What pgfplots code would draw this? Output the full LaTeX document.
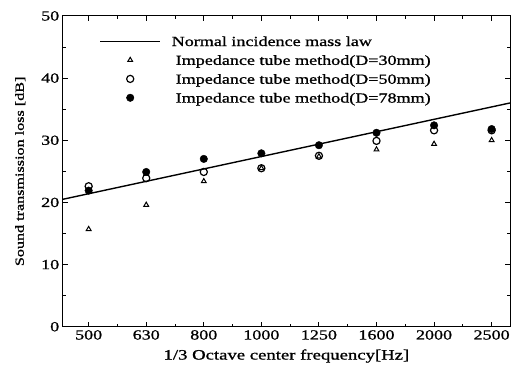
\documentclass[border=0pt]{standalone}
\usepackage{fontspec}
\setmainfont[FakeStretch=1.3,FakeBold=1]{Liberation Serif}
\usepackage{pgfplots}
\pgfplotsset{compat=1.18}
\pgfplotsset{
  legline/.style={legend image code/.code={\draw[##1] (0bp,0bp) -- (60bp,0bp);}},
  legmark/.style={legend image code/.code={\draw[mark repeat=2,mark phase=2,##1] plot coordinates {(0bp,0bp)(30bp,0bp)(60bp,0bp)};}},
}
\begin{document}
\begin{tikzpicture}
\begin{axis}[
  scale only axis,
  width=449bp, height=312bp,
  xmin=-0.45, xmax=7.32,
  ymin=0, ymax=50,
  xtick={0,...,7},
  xticklabels={500,630,800,1000,1250,1600,2000,2500},
  minor x tick num=1,
  ytick={0,10,...,50},
  minor y tick num=1,
  major tick length=5bp, minor tick length=3bp,
  axis line style={line width=1.1pt},
  every tick/.style={black, line width=0.9pt},
  /pgf/number format/assume math mode=true,
  tick label style={font=\fontsize{14}{16}\selectfont},
  xlabel style={font=\fontsize{14.5}{16}\selectfont, yshift=-3bp},
  ylabel style={font=\fontsize{12.5}{15}\selectfont, yshift=9bp},
  xlabel={1/3 Octave center frequency[Hz]},
  ylabel={Sound transmission loss [dB]},
  legend style={draw=none, fill=none, at={(0.082,0.946)}, anchor=north west,
    inner sep=0pt, font=\fontsize{14}{16}\selectfont, row sep=2.3pt},
  legend cell align=left,
]
\addplot[black, line width=1.4pt, legline]
  coordinates {(-0.45,20.5) (7.32,36.0)};
\addlegendentry{\strut\hspace{9bp}Normal incidence mass law}
\addplot[only marks, mark=triangle, mark size=2.8pt, black, line width=1pt, legmark]
  coordinates {(0,15.7) (1,19.6) (2,23.4) (3,25.5) (4,27.4) (5,28.5) (6,29.4) (7,30.0)};
\addlegendentry{\strut\hspace{13bp}Impedance tube method(D=30mm)}
\addplot[only marks, mark=o, mark size=3.6pt, black, line width=1.2pt, legmark]
  coordinates {(0,22.6) (1,23.9) (2,24.9) (3,25.5) (4,27.5) (5,29.9) (6,31.6) (7,31.6)};
\addlegendentry{\strut\hspace{13bp}Impedance tube method(D=50mm)}
\addplot[only marks, mark=*, mark size=3.8pt, black, legmark]
  coordinates {(0,21.9) (1,24.9) (2,27.0) (3,27.9) (4,29.2) (5,31.2) (6,32.4) (7,31.8)};
\addlegendentry{\strut\hspace{13bp}Impedance tube method(D=78mm)}
\end{axis}
\path (current axis.south west) ++(-63bp,-41bp) coordinate (bl);
\path (current axis.north east) ++(1bp,16bp) coordinate (tr);
\useasboundingbox (bl) rectangle (tr);
\end{tikzpicture}
\end{document}
